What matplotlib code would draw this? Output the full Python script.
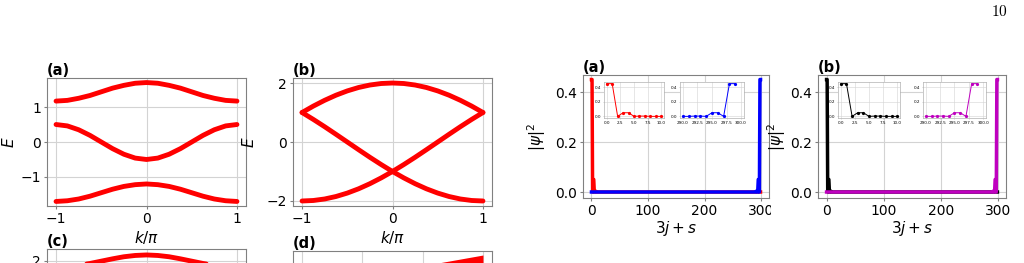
"""Page crop: band structures (left) and edge-state densities (right)."""

import matplotlib

matplotlib.use("Agg")
import matplotlib.pyplot as plt
import numpy as np
from matplotlib.transforms import Bbox

W, H = 1024, 263

# ---- band structure data ----
K_GRID = [-1.0, -0.875, -0.75, -0.625, -0.5, -0.375, -0.25, -0.125, 0.0,
          0.125, 0.25, 0.375, 0.5, 0.625, 0.75, 0.875, 1.0]

A_UPPER = [1.17, 1.19, 1.25, 1.33, 1.435, 1.54, 1.62, 1.68, 1.70,
           1.68, 1.62, 1.54, 1.435, 1.33, 1.25, 1.19, 1.17]
A_MIDDLE = [0.50, 0.46, 0.35, 0.19, 0.0, -0.19, -0.35, -0.46, -0.50,
            -0.46, -0.35, -0.19, 0.0, 0.19, 0.35, 0.46, 0.50]
A_LOWER = [-1.70, -1.68, -1.63, -1.55, -1.45, -1.35, -1.27, -1.22, -1.20,
           -1.22, -1.27, -1.35, -1.45, -1.55, -1.63, -1.68, -1.70]

B_UPPER = [1.0, 1.218, 1.414, 1.587, 1.732, 1.848, 1.932, 1.983, 2.0,
           1.983, 1.932, 1.848, 1.732, 1.587, 1.414, 1.218, 1.0]
B_FALLING = [1.0, 0.765, 0.518, 0.261, 0.0, -0.261, -0.518, -0.765, -1.0,
             -1.217, -1.414, -1.587, -1.732, -1.848, -1.932, -1.983, -2.0]
B_RISING = B_FALLING[::-1]

C_UPPER = [1.75, 1.76, 1.82, 1.89, 1.98, 2.07, 2.15, 2.20, 2.22,
           2.20, 2.15, 2.07, 1.98, 1.89, 1.82, 1.76, 1.75]

D_K = [0.5, 0.625, 0.75, 0.875, 1.0]
D_TOP = [2.84, 2.95, 3.06, 3.17, 3.28]
D_BOTTOM = [2.84, 2.3, 1.8, 1.3, 0.8]

# ---- edge-state densities ----
N_SITES = 300
LEFT_EDGE = [0.45, 0.45, 0.0, 0.05, 0.05, 0.0, 0.004, 0.004, 0.0, 0.0, 0.0]   # sites 0..10
RIGHT_EDGE = [0.0, 0.0, 0.004, 0.004, 0.0, 0.05, 0.05, 0.0, 0.45, 0.45]      # sites 290..299

SPINE = "#808080"
GRID = "#d3d3d3"


def px_axes(fig, x0, y0, x1, y1):
    return fig.add_axes([x0 / W, 1 - y1 / H, (x1 - x0) / W, (y1 - y0) / H])


def style_axes(ax, fs=10):
    ax.grid(True, color=GRID, linewidth=0.8)
    ax.set_axisbelow(True)
    for s in ax.spines.values():
        s.set_color(SPINE)
    ax.tick_params(labelsize=fs, color=SPINE, length=2.2, pad=2)


def band_panel(ax, bands, ylim, yticks, label, ylab_x, xlabel=True):
    for b in bands:
        ax.plot(K_GRID, b, color="red", linewidth=3.5, solid_capstyle="round")
    ax.set_xlim(-1.1, 1.1)
    ax.set_ylim(*ylim)
    ax.set_xticks([-1, 0, 1])
    ax.set_yticks(yticks)
    style_axes(ax)
    ax.set_title(label, loc="left", fontweight="bold", fontsize=10.5, pad=2.5)
    if xlabel:
        ax.set_xlabel(r"$k/\pi$", fontsize=11, labelpad=2)
        ax.set_ylabel(r"$E$", fontsize=11)
        ax.yaxis.set_label_coords(ylab_x, 0.5)


def density_panel(ax, left_vals, right_vals, c_left, c_right, label, ylab_x):
    sites = np.arange(N_SITES)
    left = np.zeros(N_SITES)
    left[:len(left_vals)] = left_vals
    right = np.zeros(N_SITES)
    right[N_SITES - len(right_vals):] = right_vals
    ax.plot(sites, left, color=c_left, linewidth=2.5)
    ax.plot(sites, right, color=c_right, linewidth=2.5)
    ax.set_xlim(-15, 314)
    ax.set_ylim(-0.024, 0.468)
    ax.set_xticks([0, 100, 200, 300])
    ax.set_yticks([0.0, 0.2, 0.4])
    style_axes(ax)
    ax.set_title(label, loc="left", fontweight="bold", fontsize=10.5, pad=2.5)
    ax.set_xlabel(r"$3j+s$", fontsize=11, labelpad=1)
    ax.set_ylabel(r"$|\psi|^2$", fontsize=11)
    ax.yaxis.set_label_coords(ylab_x, 0.5)
    return sites, left, right


def inset(ax, x, y, color, xlim, xticks):
    ax.plot(x, y, color=color, linewidth=0.7, marker="o", markersize=1.3)
    ax.set_xlim(*xlim)
    ax.set_ylim(-0.0225, 0.4725)
    ax.set_xticks(xticks)
    ax.set_yticks([0.0, 0.2, 0.4])
    ax.grid(True, color=GRID, linewidth=0.4)
    for s in ax.spines.values():
        s.set_color("#b0b0b0")
        s.set_linewidth(0.5)
    ax.tick_params(labelsize=3, length=1, width=0.4, pad=0.8, color="#b0b0b0")


def main():
    fig = plt.figure(figsize=(W / 100, H / 100), dpi=100)

    ax_a = px_axes(fig, 47, 78, 246, 206)
    band_panel(ax_a, [A_UPPER, A_MIDDLE, A_LOWER], (-1.83, 1.83), [-1, 0, 1], "(a)", -0.15)
    ax_b = px_axes(fig, 293, 78, 492, 206)
    band_panel(ax_b, [B_UPPER, B_FALLING, B_RISING], (-2.17, 2.17), [-2, 0, 2], "(b)", -0.18)

    # lower panels run off the bottom of the page crop; only their tops show
    ax_c = px_axes(fig, 47, 249, 246, 377)
    band_panel(ax_c, [C_UPPER], (-2.5, 2.45), [-2, 0, 2], "(c)", -0.15, xlabel=False)
    ax_c.set_yticklabels(["", "", "2"])
    ax_c.tick_params(labelbottom=False)
    ax_d = px_axes(fig, 293, 251, 492, 379)
    ax_d.fill_between(D_K, D_BOTTOM, D_TOP, color="red", linewidth=0)
    ax_d.set_xlim(-1.1, 1.1)
    ax_d.set_ylim(-3.5, 3.5)
    ax_d.set_xticks([-1, -1 / 3, 1 / 3, 1])
    ax_d.set_yticks([-2, 0, 2])
    style_axes(ax_d)
    ax_d.tick_params(labelbottom=False, labelleft=False)
    ax_d.set_title("(d)", loc="left", fontweight="bold", fontsize=10.5, pad=2.5)

    ax_r1 = px_axes(fig, 583, 75, 769, 198)
    s, l1, r1 = density_panel(ax_r1, LEFT_EDGE, RIGHT_EDGE, "red", "blue", "(a)", -0.19)
    ax_r2 = px_axes(fig, 818, 75, 1006, 198)
    _, l2, r2 = density_panel(ax_r2, LEFT_EDGE, RIGHT_EDGE, "black", "m", "(b)", -0.16)

    # the "300" label of the first density panel is cut by the next panel
    clip = Bbox([[0, 0], [771, H]])
    for t in ax_r1.get_xticklabels():
        t.set_clip_box(clip)
        t.set_clip_on(True)

    n_l = len(LEFT_EDGE)
    n_r = len(RIGHT_EDGE)
    left_ticks = [0, 2.5, 5, 7.5, 10]
    right_ticks = [290, 292.5, 295, 297.5, 300]
    inset(px_axes(fig, 604, 82, 664, 118), s[:n_l], l1[:n_l], "red", (-0.5, 10.5), left_ticks)
    inset(px_axes(fig, 680, 82, 744, 118), s[-n_r:], r1[-n_r:], "blue", (289.5, 300.5), right_ticks)
    inset(px_axes(fig, 838, 82, 900, 118), s[:n_l], l2[:n_l], "black", (-0.5, 10.5), left_ticks)
    inset(px_axes(fig, 923, 82, 986, 118), s[-n_r:], r2[-n_r:], "m", (289.5, 300.5), right_ticks)

    fig.text(1008 / W, 1 - 12 / H, r"$\mathrm{10}$", ha="right", va="center",
             fontsize=11, math_fontfamily="cm")

    fig.savefig("out.png", dpi=100)
    plt.close(fig)


if __name__ == "__main__":
    main()
